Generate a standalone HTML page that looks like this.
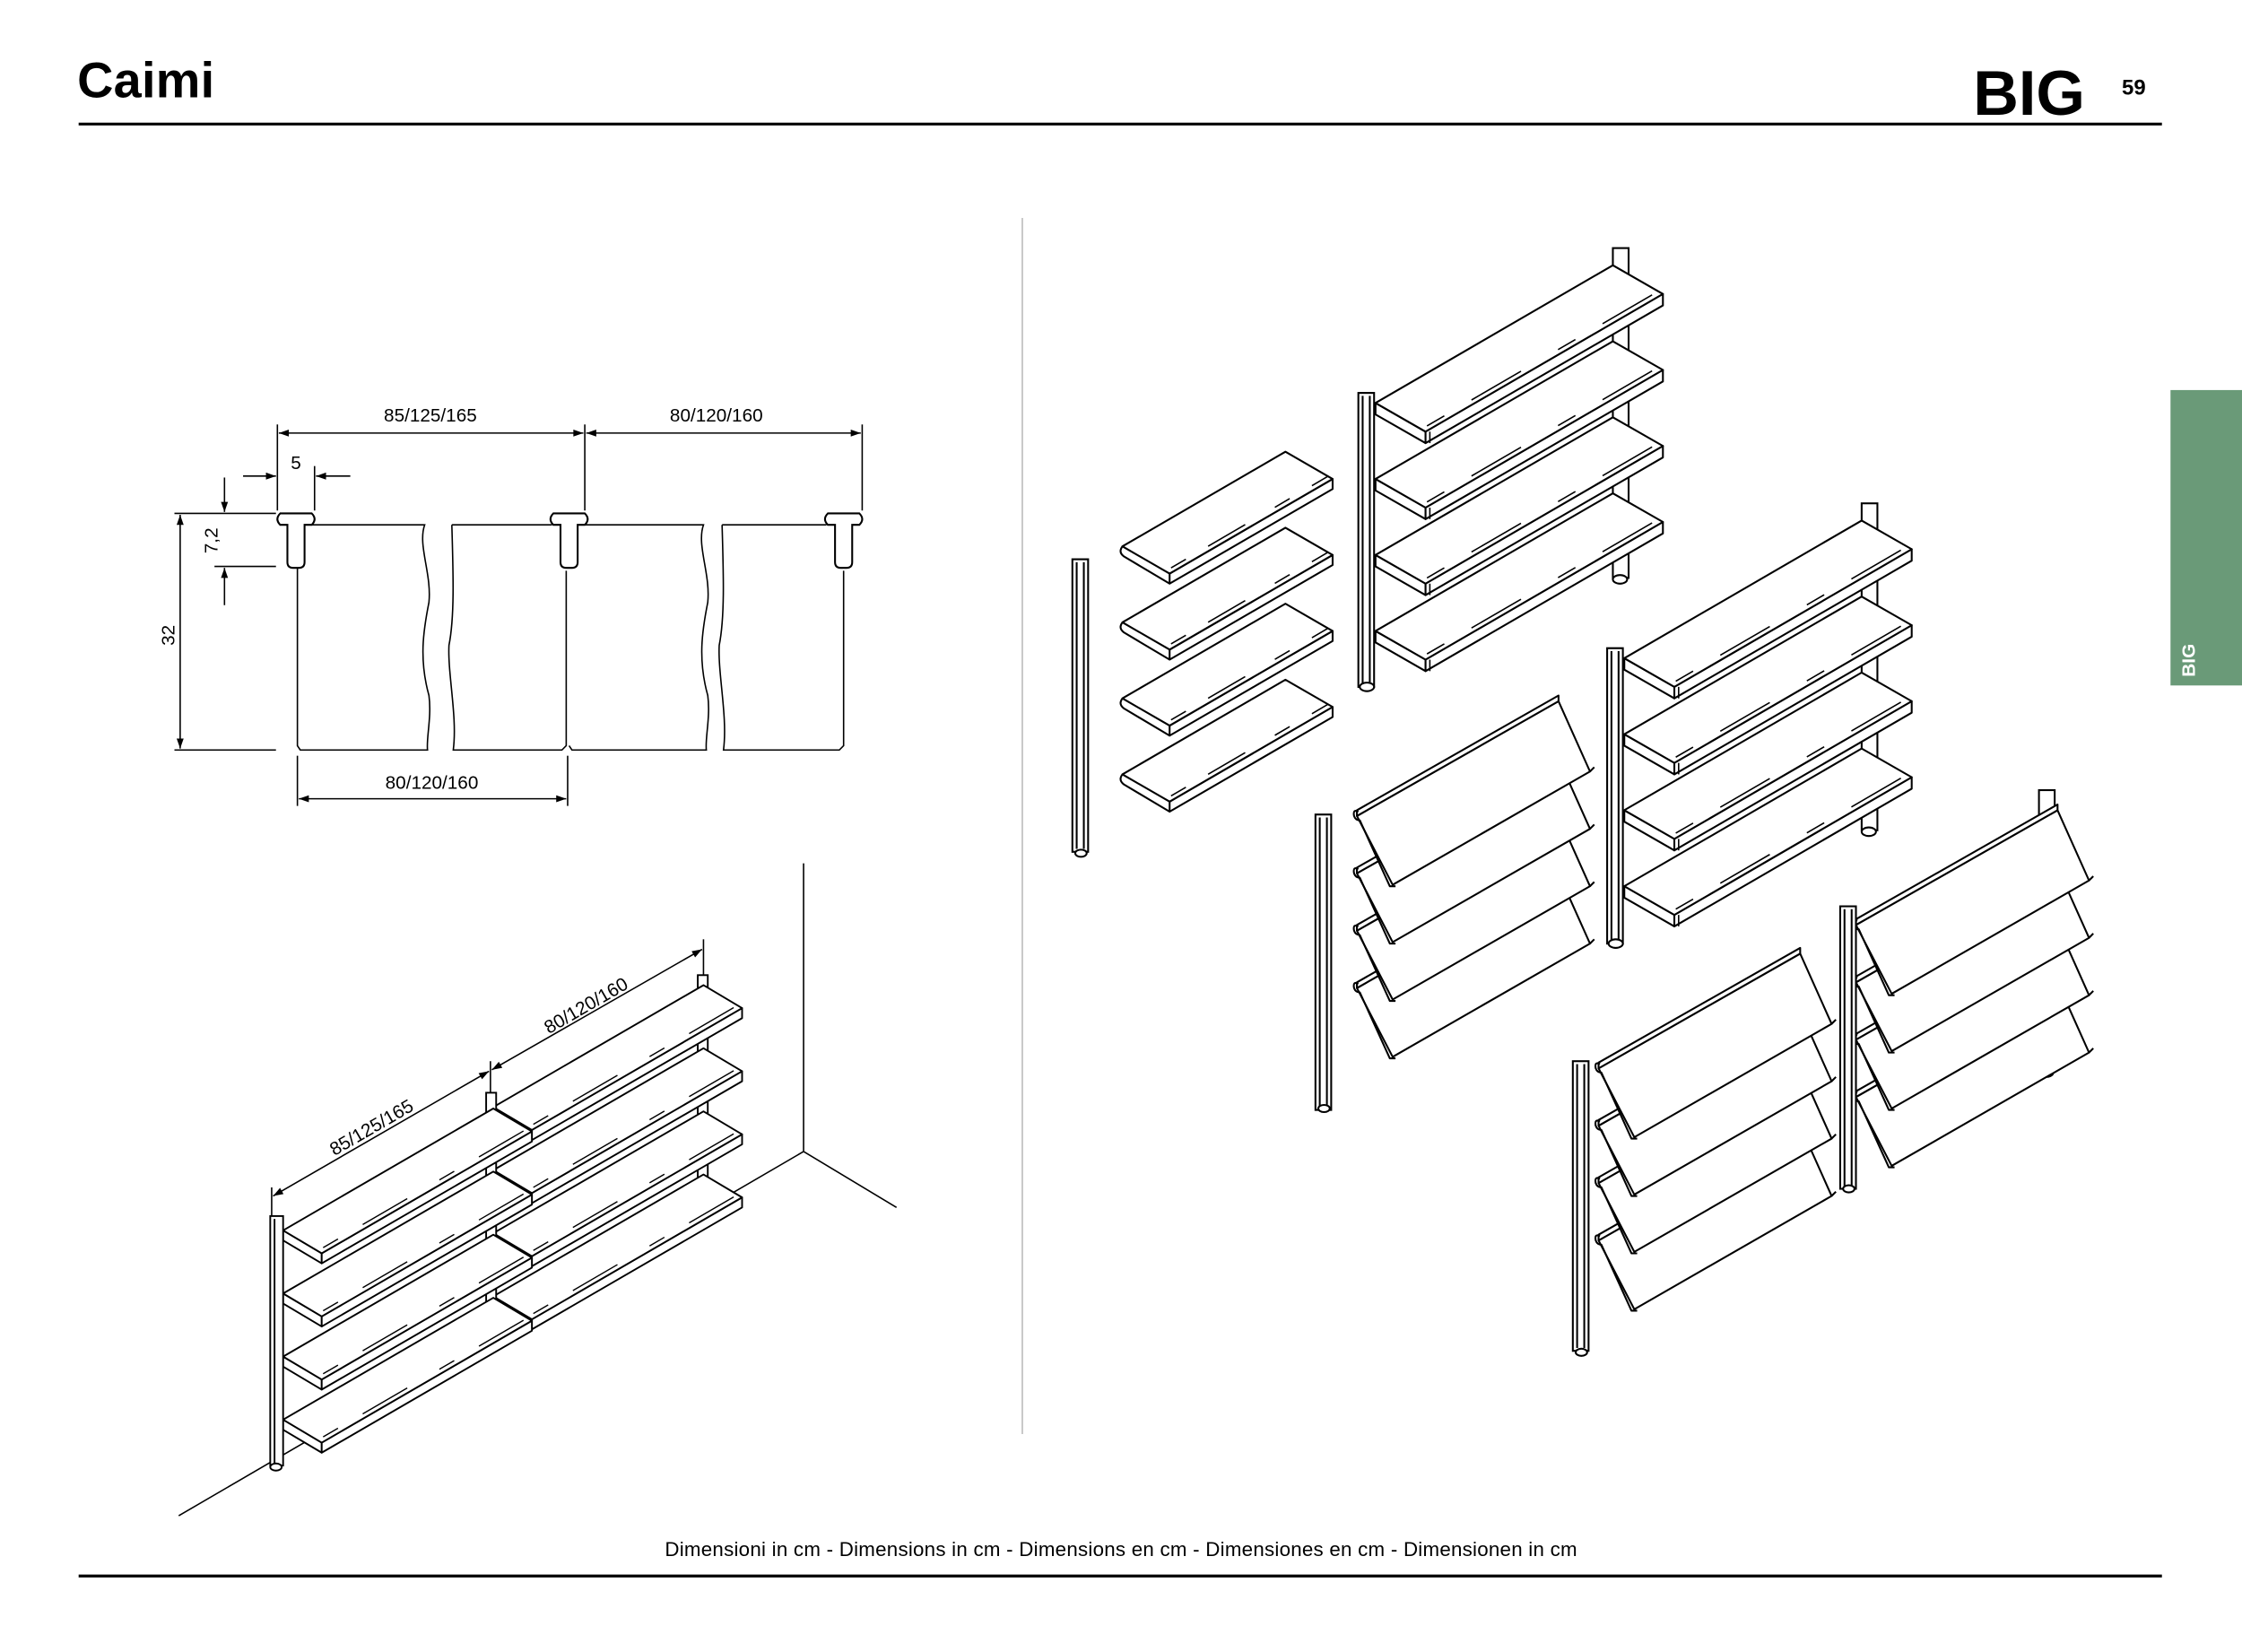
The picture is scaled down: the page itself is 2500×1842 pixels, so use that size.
<!DOCTYPE html>
<html><head><meta charset="utf-8">
<style>
html,body{margin:0;padding:0;background:#fff;}
svg{display:block;}
</style></head>
<body>
<svg width="2500" height="1842" viewBox="0 0 1568 1152" preserveAspectRatio="none" xmlns="http://www.w3.org/2000/svg">
<defs>
  <marker id="ar" viewBox="0 0 10 10" refX="10" refY="5" markerWidth="10" markerHeight="7" orient="auto-start-reverse" markerUnits="userSpaceOnUse">
    <path d="M0,1.5 L10,5 L0,8.5 z" fill="#000"/>
  </marker>
  <g id="fsL" stroke="#000" stroke-width="1.3" fill="#fff" stroke-linejoin="round">
    <polygon points="0,0 35,20 35,28 0,8"/>
    <polygon points="35,20 201,-76 201,-68 35,28"/>
    <polygon points="0,0 166,-96 201,-76 35,20"/>
    <line x1="36" y1="16" x2="198" y2="-78" stroke-dasharray="14 22 40 30" stroke-width="1"/>
    <line x1="38" y1="20" x2="38" y2="28" stroke-width="1"/>
  </g>
  <g id="fsS" stroke="#000" stroke-width="1.3" fill="#fff" stroke-linejoin="round">
    <polygon points="33,19 147,-47 147,-40 33,26"/>
    <polygon points="0,0 114,-66 147,-47 33,19"/>
    <path d="M0,0 q-3,4 1,7 l32,19" fill="none"/>
    <line x1="34" y1="15" x2="144" y2="-49" stroke-dasharray="12 18 30 24" stroke-width="1"/>
  </g>
  <g id="bs" stroke="#000" stroke-width="1.2" fill="#fff" stroke-linejoin="round">
    <polygon points="0,0 27,16 27,23 0,7"/>
    <polygon points="27,16 174,-69 174,-62 27,23"/>
    <polygon points="0,0 147,-85 174,-69 27,16"/>
    <line x1="28" y1="12" x2="171" y2="-71" stroke-dasharray="12 20 36 26" stroke-width="0.9"/>
  </g>
  <g id="sp" stroke="#000" stroke-width="1.3" fill="#fff" stroke-linejoin="round">
    <polygon points="0,0 141,-80 163,-31 25,48"/>
    <polygon points="0,0 141,-80 141,-84 0,-4"/>
    <path d="M1,-3 q-4,-2 -3,3 q1,3 4,3 l21,46 l4,0" fill="none"/>
    <path d="M163,-31 l3,-3" fill="none"/>
  </g>
  <g id="up" stroke="#000" stroke-width="1.3" fill="#fff">
    <rect x="0" y="0" width="11" height="200"/>
    <line x1="3" y1="2" x2="3" y2="198"/>
    <line x1="8" y1="2" x2="8" y2="198"/>
  </g>
</defs>

<text x="54" y="68" font-family="Liberation Sans, sans-serif" font-weight="bold" font-size="35" fill="#000" textLength="96">Caimi</text>
<line x1="55" y1="86.5" x2="1512" y2="86.5" stroke="#000" stroke-width="2"/>
<text x="1380" y="80" font-family="Liberation Sans, sans-serif" font-weight="bold" font-size="44" fill="#000">BIG</text>
<text x="1484" y="66" font-family="Liberation Sans, sans-serif" font-weight="bold" font-size="15" fill="#000">59</text>

<rect x="1518" y="272" width="50" height="206" fill="#6a9a78"/>
<text transform="translate(1535,472) rotate(-90)" font-family="Liberation Sans, sans-serif" font-weight="bold" font-size="13" fill="#fff">BIG</text>

<line x1="715" y1="152" x2="715" y2="1000" stroke="#bbb" stroke-width="1"/>

<text x="784" y="1085" text-anchor="middle" font-family="Liberation Sans, sans-serif" font-size="14" fill="#000" textLength="638">Dimensioni in cm - Dimensions in cm - Dimensions en cm - Dimensiones en cm - Dimensionen in cm</text>
<line x1="55" y1="1099" x2="1512" y2="1099" stroke="#000" stroke-width="2"/>

<g stroke="#000" stroke-width="1" fill="none" font-family="Liberation Sans, sans-serif">
  <line x1="194" y1="296" x2="194" y2="356"/>
  <line x1="409" y1="296" x2="409" y2="356"/>
  <line x1="603" y1="296" x2="603" y2="356"/>
  <line x1="195" y1="302" x2="408" y2="302" marker-start="url(#ar)" marker-end="url(#ar)"/>
  <line x1="410" y1="302" x2="602" y2="302" marker-start="url(#ar)" marker-end="url(#ar)"/>
  <line x1="220" y1="325" x2="220" y2="356"/>
  <line x1="170" y1="332" x2="193" y2="332" marker-end="url(#ar)"/>
  <line x1="245" y1="332" x2="221" y2="332" marker-end="url(#ar)"/>
  <line x1="157" y1="333" x2="157" y2="357" marker-end="url(#ar)"/>
  <line x1="157" y1="422" x2="157" y2="396" marker-end="url(#ar)"/>
  <line x1="122" y1="358" x2="193" y2="358"/>
  <line x1="150" y1="395" x2="193" y2="395"/>
  <line x1="126" y1="359" x2="126" y2="522" marker-start="url(#ar)" marker-end="url(#ar)"/>
  <line x1="122" y1="523" x2="193" y2="523"/>
  <line x1="208" y1="527" x2="208" y2="562"/>
  <line x1="397" y1="527" x2="397" y2="562"/>
  <line x1="209" y1="557" x2="396" y2="557" marker-start="url(#ar)" marker-end="url(#ar)"/>
  <path d="M213,366 L297,366 C292,380 302,400 300,420 C296,440 293,460 300,485 C302,500 298,515 299,523 L210,523 L208,520 L208,396"/>
  <path d="M316,366 L386,366 M396,398 L396,520 L393,523 L317,523 C320,500 313,470 314,450 C318,430 317,400 316,366"/>
  <path d="M409,366 L492,366 C487,380 497,400 495,420 C491,440 488,460 495,485 C497,500 493,515 494,523 L400,523 L398,520"/>
  <path d="M505,366 L578,366 M590,398 L590,520 L587,523 L506,523 C509,500 502,470 503,450 C507,430 506,400 505,366"/>
  <path d="M196,358 L218,358 Q222,362 218,366 L213,366 L213,392 Q213,396 209,396 L205,396 Q201,396 201,392 L201,366 L196,366 Q192,362 196,358 Z" stroke-width="1.3"/>
  <path d="M387,358 L409,358 Q413,362 409,366 L404,366 L404,392 Q404,396 400,396 L396,396 Q392,396 392,392 L392,366 L387,366 Q383,362 387,358 Z" stroke-width="1.3"/>
  <path d="M579,358 L601,358 Q605,362 601,366 L596,366 L596,392 Q596,396 592,396 L588,396 Q584,396 584,392 L584,366 L579,366 Q575,362 579,358 Z" stroke-width="1.3"/>
  <g stroke="none" fill="#000" font-size="13">
    <text x="301" y="294" text-anchor="middle">85/125/165</text>
    <text x="501" y="294" text-anchor="middle">80/120/160</text>
    <text x="207" y="327" text-anchor="middle">5</text>
    <text x="302" y="550" text-anchor="middle">80/120/160</text>
    <text transform="translate(152,377) rotate(-90)" text-anchor="middle">7,2</text>
    <text transform="translate(122,443) rotate(-90)" text-anchor="middle">32</text>
  </g>
</g>

<g stroke="#000" stroke-width="1" fill="none">
  <line x1="562" y1="602" x2="562" y2="803"/>
  <line x1="562" y1="803" x2="627" y2="842"/>
  <line x1="562" y1="803" x2="125" y2="1057"/>
  <line x1="190" y1="828" x2="190" y2="852"/>
  <line x1="343" y1="740" x2="343" y2="768"/>
  <line x1="492" y1="655" x2="492" y2="682"/>
  <line x1="191" y1="834" x2="342" y2="747" marker-start="url(#ar)" marker-end="url(#ar)"/>
  <line x1="344" y1="746" x2="491" y2="662" marker-start="url(#ar)" marker-end="url(#ar)"/>
</g>
<g font-family="Liberation Sans, sans-serif" font-size="13" fill="#000">
  <text transform="translate(262,790) rotate(-30)" text-anchor="middle">85/125/165</text>
  <text transform="translate(412,705) rotate(-30)" text-anchor="middle">80/120/160</text>
</g>
<rect x="488" y="680" width="7" height="160" fill="#fff" stroke="#000" stroke-width="1.2"/>
<use href="#bs" x="345" y="904"/>
<use href="#bs" x="345" y="860"/>
<use href="#bs" x="345" y="816"/>
<use href="#bs" x="345" y="772"/>
<rect x="340" y="762" width="7" height="165" fill="#fff" stroke="#000" stroke-width="1.2"/>
<use href="#bs" x="198" y="990"/>
<use href="#bs" x="198" y="946"/>
<use href="#bs" x="198" y="902"/>
<use href="#bs" x="198" y="858"/>
<g stroke="#000" stroke-width="1.2" fill="#fff">
  <rect x="189" y="848" width="9" height="174"/>
  <line x1="192" y1="850" x2="192" y2="1020"/>
  <ellipse cx="193" cy="1023" rx="4" ry="2.5"/>
</g>

<g stroke="#000" stroke-width="1.3" fill="#fff">
  <rect x="1128" y="173" width="11" height="230"/>
  <ellipse cx="1133" cy="404" rx="5" ry="3"/>
</g>
<use href="#fsL" x="962" y="281"/>
<use href="#fsL" x="962" y="334"/>
<use href="#fsL" x="962" y="387"/>
<use href="#fsL" x="962" y="440"/>
<use href="#up" x="950" y="274" transform="translate(950,274) scale(1,1.025) translate(-950,-274)"/>
<ellipse cx="956" cy="479" rx="5" ry="3" fill="#fff" stroke="#000" stroke-width="1.3"/>

<g stroke="#000" stroke-width="1.3" fill="#fff">
  <rect x="1302" y="351" width="11" height="228"/>
  <ellipse cx="1307" cy="580" rx="5" ry="3"/>
</g>
<use href="#fsL" x="1136" y="459"/>
<use href="#fsL" x="1136" y="512"/>
<use href="#fsL" x="1136" y="565"/>
<use href="#fsL" x="1136" y="618"/>
<use href="#up" x="1124" y="452" transform="translate(1124,452) scale(1,1.03) translate(-1124,-452)"/>
<ellipse cx="1130" cy="658" rx="5" ry="3" fill="#fff" stroke="#000" stroke-width="1.3"/>

<use href="#fsS" x="785" y="381"/>
<use href="#fsS" x="785" y="434"/>
<use href="#fsS" x="785" y="487"/>
<use href="#fsS" x="785" y="540"/>
<use href="#up" x="750" y="390" transform="translate(750,390) scale(1,1.02) translate(-750,-390)"/>
<ellipse cx="756" cy="595" rx="4" ry="2.5" fill="#fff" stroke="#000" stroke-width="1.3"/>

<use href="#sp" x="949" y="689"/>
<use href="#sp" x="949" y="649"/>
<use href="#sp" x="949" y="609"/>
<use href="#sp" x="949" y="569"/>
<use href="#up" x="920" y="568" transform="translate(920,568) scale(1,1.03) translate(-920,-568)"/>
<ellipse cx="926" cy="773" rx="4" ry="2.5" fill="#fff" stroke="#000" stroke-width="1.3"/>

<g stroke="#000" stroke-width="1.3" fill="#fff">
  <rect x="1426" y="551" width="11" height="196"/>
  <ellipse cx="1431" cy="748" rx="5" ry="3"/>
</g>
<use href="#sp" x="1298" y="765"/>
<use href="#sp" x="1298" y="725"/>
<use href="#sp" x="1298" y="685"/>
<use href="#sp" x="1298" y="645"/>
<use href="#up" x="1287" y="632" transform="translate(1287,632) scale(1,0.985) translate(-1287,-632)"/>
<ellipse cx="1293" cy="829" rx="4" ry="2.5" fill="#fff" stroke="#000" stroke-width="1.3"/>

<use href="#sp" x="1118" y="865"/>
<use href="#sp" x="1118" y="825"/>
<use href="#sp" x="1118" y="785"/>
<use href="#sp" x="1118" y="745"/>
<use href="#up" x="1100" y="740" transform="translate(1100,740) scale(1,1.01) translate(-1100,-740)"/>
<ellipse cx="1106" cy="943" rx="4" ry="2.5" fill="#fff" stroke="#000" stroke-width="1.3"/>
</svg>
</body></html>
